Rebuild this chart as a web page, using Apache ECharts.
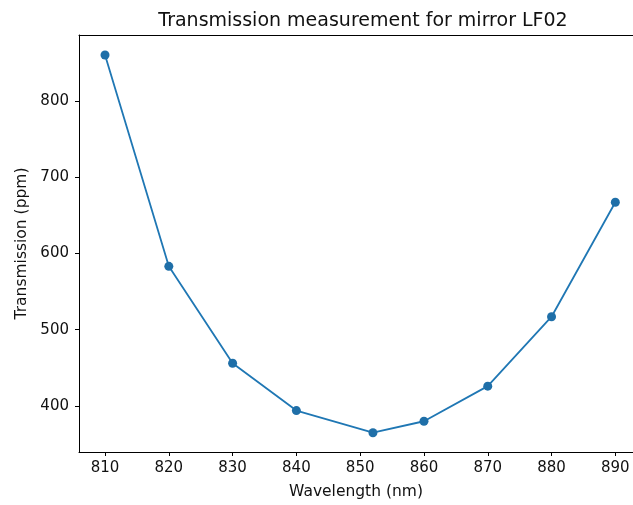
<!DOCTYPE html>
<html>
<head>
<meta charset="utf-8">
<script src="https://cdn.jsdelivr.net/npm/echarts@6/dist/echarts.min.js"></script>
<style>
html,body{margin:0;padding:0;background:#fff;}
#chart{width:633px;height:505px;}
</style>
</head>
<body>
<div id="chart"></div>
<script>
const wavelengths = [810, 820, 830, 840, 852, 860, 870, 880, 890];
const transmission = [860, 583, 456, 394, 365, 380, 426, 517, 667];
const xTicks = [810, 820, 830, 840, 850, 860, 870, 880, 890];
const yTicks = [400, 500, 600, 700, 800];

const font = 'DejaVu Sans';
const chart = echarts.init(document.getElementById('chart'), null, {renderer: 'canvas'});
chart.setOption({
  animation: false,
  backgroundColor: '#fff',
  title: {
    text: 'Transmission measurement for mirror LF02',
    left: 358, top: 7, textAlign: 'center',
    textStyle: {fontFamily: font, fontSize: 19, fontWeight: 'normal', color: '#111'}
  },
  grid: {
    left: 79, top: 35, right: 0, bottom: 53,
    show: false
  },
  xAxis: [{
    type: 'value', min: 805.92, max: 892.77,
    name: 'Wavelength (nm)', nameLocation: 'middle', nameGap: 32,
    nameTextStyle: {fontFamily: font, fontSize: 15.5, color: '#111'},
    axisLine: {show: true, onZero: false, lineStyle: {color: '#000', width: 1}},
    axisTick: {show: true, customValues: xTicks, length: 4, lineStyle: {color: '#000'}},
    axisLabel: {customValues: xTicks, fontFamily: font, fontSize: 15, color: '#111', margin: 9},
    splitLine: {show: false}
  }, {
    type: 'value', min: 805.92, max: 892.77, position: 'top',
    axisLine: {show: true, onZero: false, lineStyle: {color: '#000', width: 1}},
    axisTick: {show: false}, axisLabel: {show: false}, splitLine: {show: false}
  }],
  yAxis: {
    type: 'value', min: 339.7, max: 886.2,
    name: 'Transmission (ppm)', nameLocation: 'middle', nameGap: 47, nameRotate: 90,
    nameTextStyle: {fontFamily: font, fontSize: 15.5, color: '#111'},
    axisLine: {show: true, onZero: false, lineStyle: {color: '#000', width: 1}},
    axisTick: {show: true, customValues: yTicks, length: 4, lineStyle: {color: '#000'}},
    axisLabel: {customValues: yTicks, fontFamily: font, fontSize: 15, color: '#111', margin: 10},
    splitLine: {show: false}
  },
  series: [{
    type: 'line',
    xAxisIndex: 0,
    data: wavelengths.map((w, i) => [w, transmission[i]]),
    symbol: 'circle', symbolSize: 9,
    lineStyle: {color: '#1f77b4', width: 1.8},
    itemStyle: {color: '#1f6fa8'}
  }]
});
</script>
</body>
</html>
